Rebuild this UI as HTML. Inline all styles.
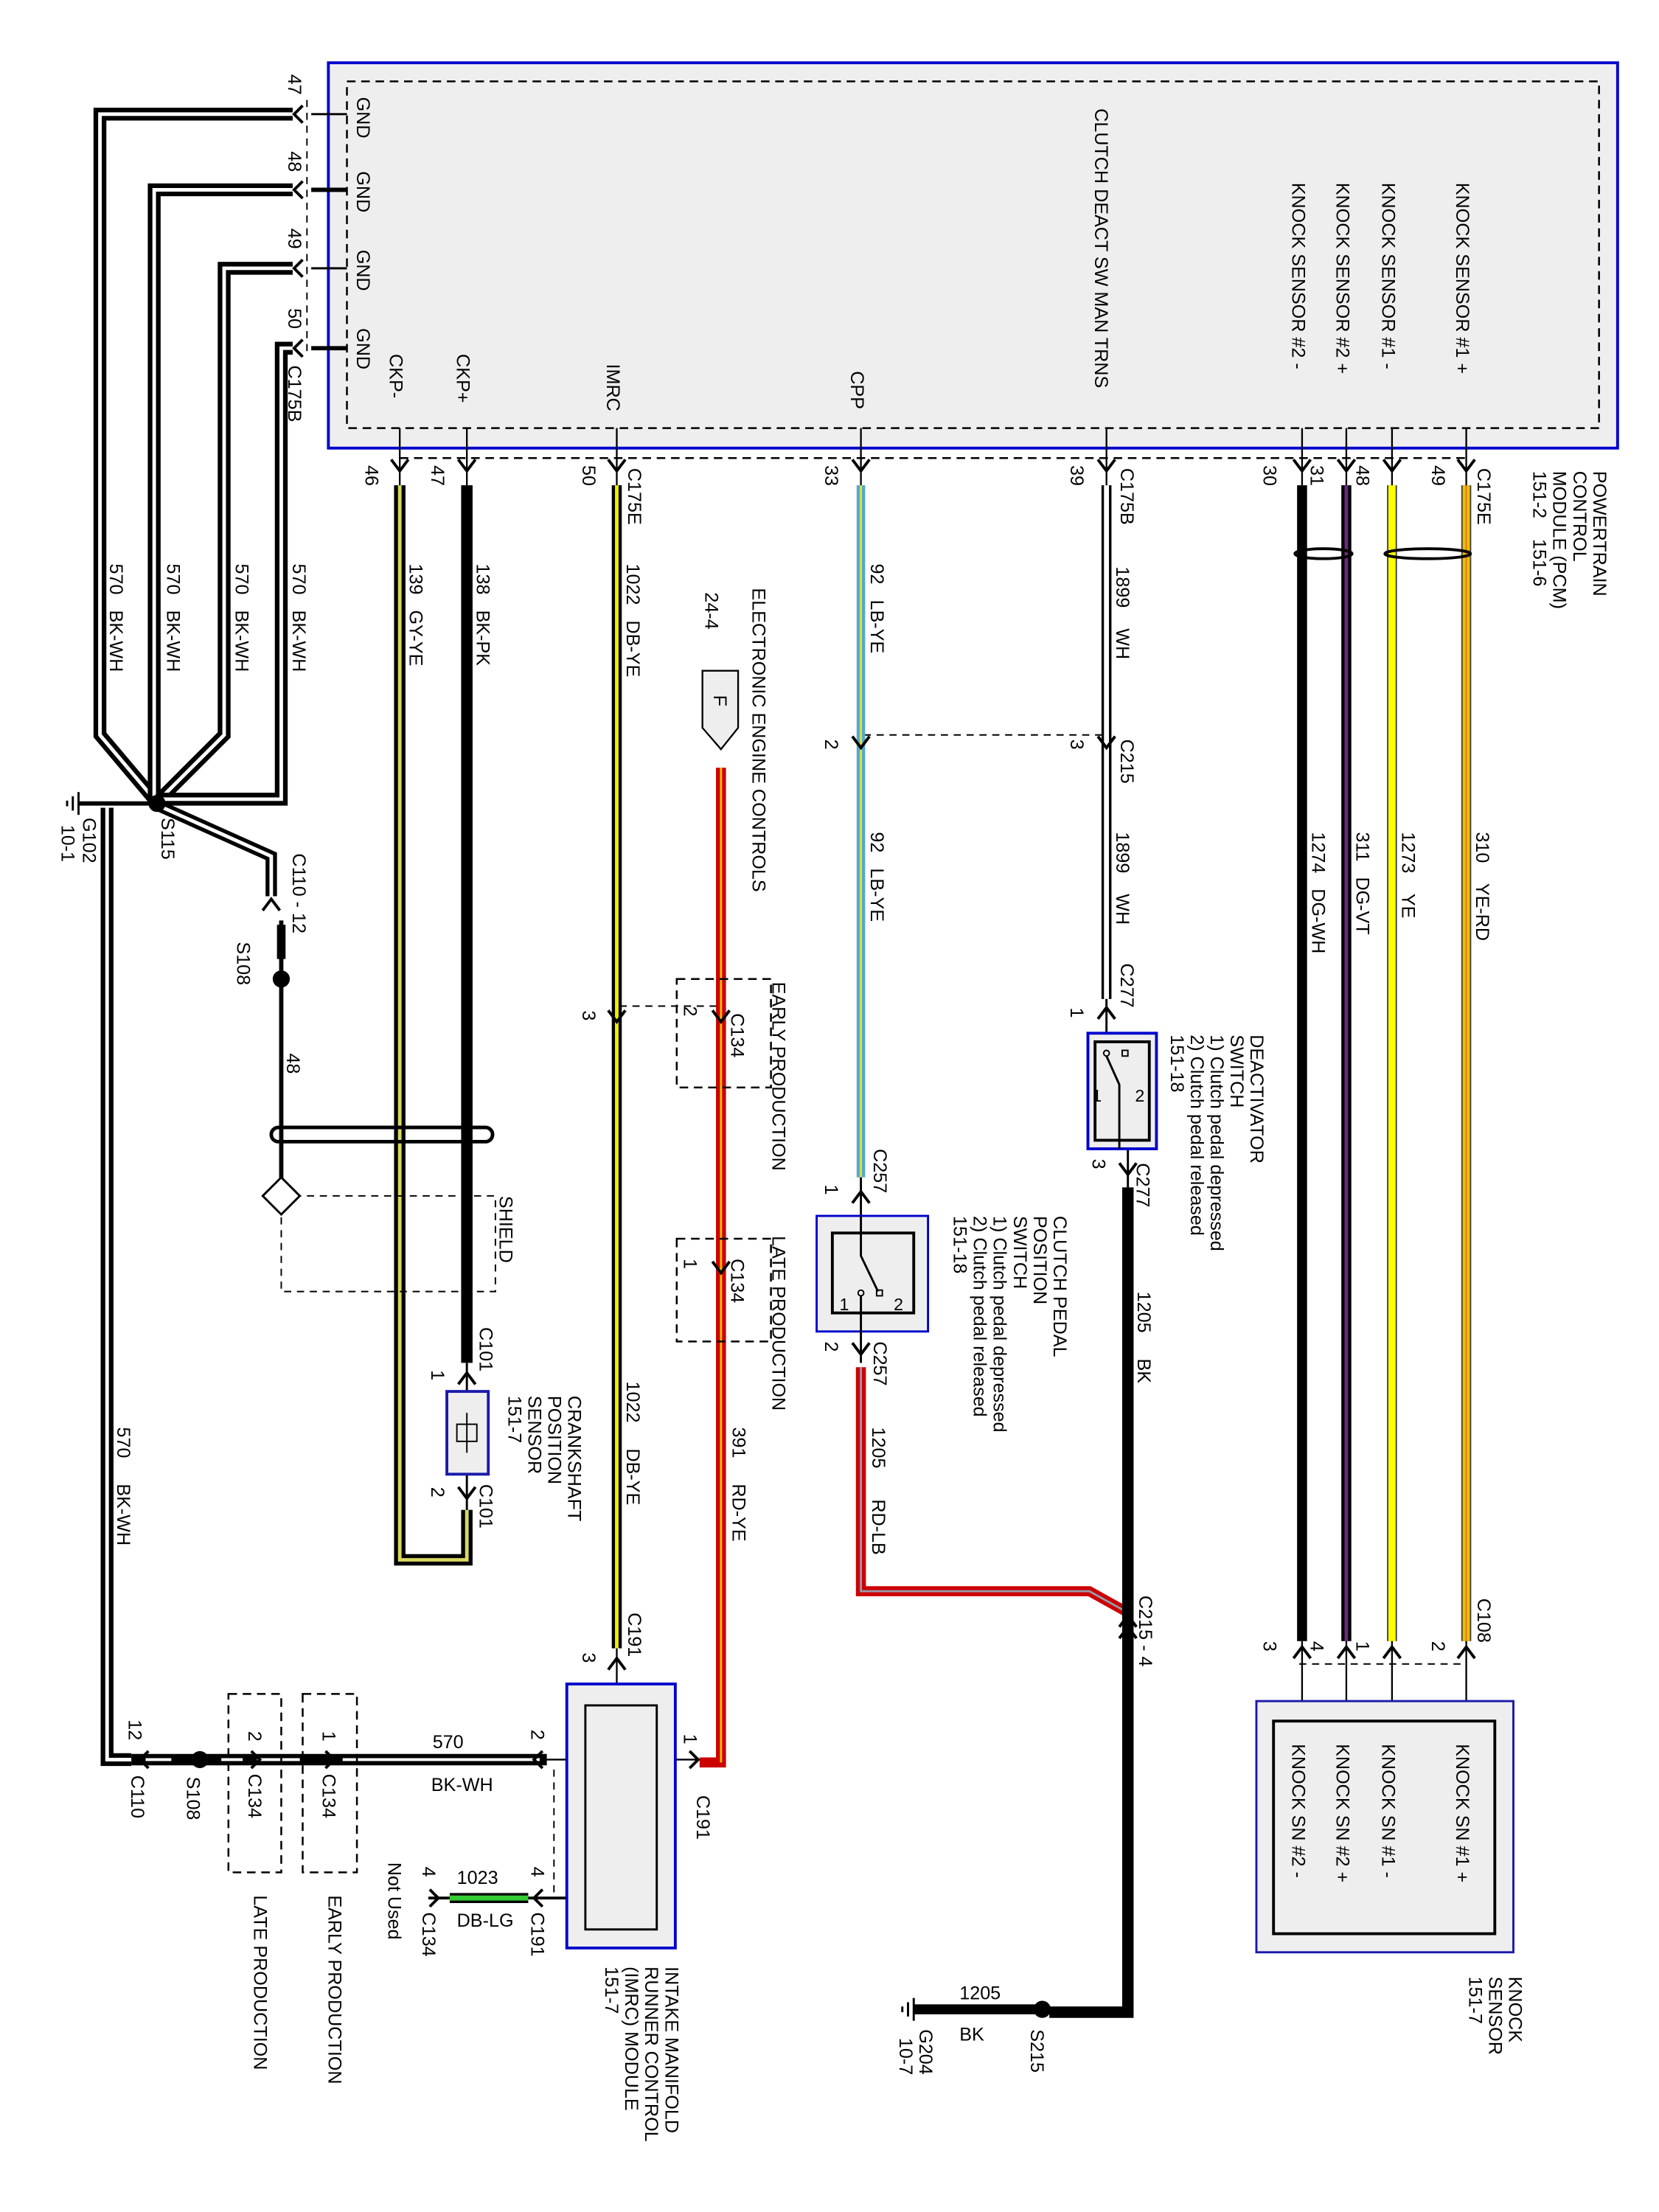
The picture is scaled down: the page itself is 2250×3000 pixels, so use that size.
<!DOCTYPE html>
<html><head><meta charset="utf-8"><style>
html,body{margin:0;padding:0;background:#fff;}
svg{display:block;}
text{font-family:"Liberation Sans Narrow","Liberation Sans",sans-serif;font-size:13px;fill:#000;white-space:pre;}
.s{font-size:12px;}
</style></head><body>
<svg width="2250" height="3000" viewBox="0 0 1162 1550" preserveAspectRatio="none" xmlns="http://www.w3.org/2000/svg">
<rect x="0" y="0" width="1162" height="1550" fill="#fff"/>
<!-- PCM -->
<rect x="230" y="44" width="903" height="270" fill="#eeeeee" stroke="#0000cc" stroke-width="2"/>
<rect x="243" y="57" width="877" height="243" fill="none" stroke="#000" stroke-width="1.3" stroke-dasharray="6,4"/>
<line x1="215" y1="70" x2="215" y2="250" stroke="#000" stroke-dasharray="5,4"/>
<line x1="280" y1="321" x2="1030" y2="321" stroke="#000" stroke-width="1.3" stroke-dasharray="6,4"/>
<line x1="605" y1="515" x2="775" y2="515" stroke="#000" stroke-dasharray="5,4"/>
<line x1="910" y1="1166" x2="1027" y2="1166" stroke="#000" stroke-dasharray="5,4"/>
<line x1="434" y1="705" x2="505" y2="705" stroke="#000" stroke-dasharray="5,4"/>

<g fill="none" stroke-linejoin="miter">
<path d="M205 80 H70 V515 L108 560" stroke="#000" stroke-width="9"/>
<path d="M205 80 H70 V515 L108 560" stroke="#fff" stroke-width="2.5"/>
<path d="M205 133 H108 V560" stroke="#000" stroke-width="9"/>
<path d="M205 133 H108 V560" stroke="#fff" stroke-width="2.5"/>
<path d="M205 188 H157 V515 L112 560" stroke="#000" stroke-width="9"/>
<path d="M205 188 H157 V515 L112 560" stroke="#fff" stroke-width="2.5"/>
<path d="M205 244 H197 V560 H112" stroke="#000" stroke-width="9"/>
<path d="M205 244 H197 V560 H112" stroke="#fff" stroke-width="2.5"/>
<path d="M112 565 L190 600 V628" stroke="#000" stroke-width="8"/>
<path d="M112 565 L190 600 V628" stroke="#fff" stroke-width="2.5"/>
<path d="M75 566 V1233 H92" stroke="#000" stroke-width="9"/>
<path d="M75 566 V1233 H92" stroke="#fff" stroke-width="2.5"/>
<line x1="55" y1="563" x2="112" y2="563" stroke="#000" stroke-width="3"/>
<line x1="218" y1="80" x2="243" y2="80" stroke="#000" stroke-width="1.5"/>
<line x1="218" y1="133" x2="243" y2="133" stroke="#000" stroke-width="3"/>
<line x1="218" y1="188" x2="243" y2="188" stroke="#000" stroke-width="1.5"/>
<line x1="218" y1="244" x2="243" y2="244" stroke="#000" stroke-width="3"/>
<line x1="197" y1="645" x2="197" y2="838" stroke="#000" stroke-width="3"/>
<line x1="197" y1="648" x2="197" y2="672" stroke="#000" stroke-width="6"/>
<path d="M280 340 V1093 H327 V1058" stroke="#000" stroke-width="8"/>
<path d="M280 340 V1093 H327 V1058" stroke="#d8d860" stroke-width="2.5"/>
<line x1="327" y1="340" x2="327" y2="955" stroke="#000" stroke-width="8"/>
<line x1="280" y1="300" x2="280" y2="340" stroke="#000" stroke-width="1.2"/>
<line x1="327" y1="300" x2="327" y2="340" stroke="#000" stroke-width="1.2"/>
<line x1="327" y1="955" x2="327" y2="975" stroke="#000" stroke-width="1.5"/>
<line x1="327" y1="1033" x2="327" y2="1058" stroke="#000" stroke-width="1.5"/>
<line x1="432" y1="340" x2="432" y2="1155" stroke="#000" stroke-width="7"/>
<line x1="432" y1="340" x2="432" y2="1155" stroke="#f0f000" stroke-width="2.5"/>
<line x1="432" y1="300" x2="432" y2="340" stroke="#000" stroke-width="1.2"/>
<line x1="432" y1="1155" x2="432" y2="1195" stroke="#000" stroke-width="1.2"/>
<path d="M505 538 V1235 H490" stroke="#cc0000" stroke-width="7"/>
<path d="M505 538 V1235" stroke="#f0c000" stroke-width="1.5"/>
<line x1="603" y1="340" x2="603" y2="825" stroke="#55aacc" stroke-width="6"/>
<line x1="603" y1="340" x2="603" y2="825" stroke="#e0e040" stroke-width="1.5"/>
<line x1="603" y1="300" x2="603" y2="340" stroke="#000" stroke-width="1.2"/>
<line x1="603" y1="825" x2="603" y2="955" stroke="#000" stroke-width="1.5"/>
<path d="M603 958 V1115 H763 L790 1130" stroke="#cc0000" stroke-width="7"/>
<path d="M603 958 V1115 H763 L790 1130" stroke="#9999aa" stroke-width="1.5"/>
<line x1="775" y1="340" x2="775" y2="700" stroke="#000" stroke-width="7"/>
<line x1="775" y1="340" x2="775" y2="700" stroke="#fff" stroke-width="3.5"/>
<line x1="775" y1="300" x2="775" y2="340" stroke="#000" stroke-width="1.2"/>
<line x1="775" y1="700" x2="775" y2="760" stroke="#000" stroke-width="1.5"/>
<path d="M790 832 V1410 H735" stroke="#000" stroke-width="8"/>
<path d="M640 1408 H735" stroke="#000" stroke-width="7"/>
<line x1="790" y1="775" x2="790" y2="832" stroke="#000" stroke-width="1.5"/>
<line x1="912" y1="340" x2="912" y2="1150" stroke="#000" stroke-width="7"/>
<line x1="943" y1="340" x2="943" y2="1150" stroke="#000" stroke-width="7"/>
<line x1="943" y1="340" x2="943" y2="1150" stroke="#6a2a7a" stroke-width="2.5"/>
<line x1="975" y1="340" x2="975" y2="1150" stroke="#444" stroke-width="7"/>
<line x1="975" y1="340" x2="975" y2="1150" stroke="#ffff00" stroke-width="5"/>
<line x1="1027" y1="340" x2="1027" y2="1150" stroke="#444" stroke-width="7"/>
<line x1="1027" y1="340" x2="1027" y2="1150" stroke="#f0c000" stroke-width="5"/>
<line x1="1027" y1="340" x2="1027" y2="1150" stroke="#e08020" stroke-width="1.2"/>
<g stroke="#000" stroke-width="1.2">
<line x1="912" y1="300" x2="912" y2="340"/><line x1="943" y1="300" x2="943" y2="340"/><line x1="975" y1="300" x2="975" y2="340"/><line x1="1027" y1="300" x2="1027" y2="340"/>
<line x1="912" y1="1150" x2="912" y2="1206"/><line x1="943" y1="1150" x2="943" y2="1206"/><line x1="975" y1="1150" x2="975" y2="1206"/><line x1="1027" y1="1150" x2="1027" y2="1206"/>
</g>
<ellipse cx="927" cy="388" rx="20" ry="3.5" stroke="#000" stroke-width="2"/>
<ellipse cx="1000" cy="388" rx="30" ry="3.5" stroke="#000" stroke-width="2"/>
<path d="M92 1233 H250 M250 1233 H383" stroke="#000" stroke-width="8"/>
<path d="M102 1233 H120 M155 1233 H170 M180 1233 H210 M240 1233 H378" stroke="#fff" stroke-width="2"/>
<line x1="383" y1="1233" x2="410" y2="1233" stroke="#000" stroke-width="1.2"/>
<line x1="460" y1="1233" x2="490" y2="1233" stroke="#000" stroke-width="1.2"/>
<line x1="388" y1="1240" x2="388" y2="1330" stroke="#000" stroke-dasharray="5,4"/>
<line x1="300" y1="1330" x2="397" y2="1330" stroke="#000" stroke-width="2"/>
<line x1="315" y1="1330" x2="370" y2="1330" stroke="#000" stroke-width="7"/>
<line x1="315" y1="1330" x2="370" y2="1330" stroke="#33cc33" stroke-width="3.5"/>
</g>

<circle cx="110" cy="563" r="6" fill="#000"/>
<circle cx="197" cy="686" r="6" fill="#000"/>
<circle cx="140" cy="1233" r="6" fill="#000"/>
<circle cx="730" cy="1408" r="6" fill="#000"/>
<g stroke="#000" stroke-width="1.5">
<line x1="55" y1="555" x2="55" y2="571"/><line x1="51" y1="558" x2="51" y2="568"/><line x1="47" y1="561" x2="47" y2="565"/>
<line x1="640" y1="1400" x2="640" y2="1416"/><line x1="636" y1="1403" x2="636" y2="1413"/><line x1="632" y1="1406" x2="632" y2="1410"/>
</g>

<rect x="190" y="790" width="155" height="10" rx="5" fill="none" stroke="#000" stroke-width="2.5"/>
<rect x="197" y="838" width="150" height="67" fill="none" stroke="#000" stroke-dasharray="5,4"/>
<path d="M197 825 L210 838 L197 851 L184 838 Z" fill="#fff" stroke="#000" stroke-width="1.5"/>

<g fill="none" stroke="#000" stroke-width="1.3" stroke-dasharray="6,4">
<rect x="474" y="686" width="66" height="76"/>
<rect x="474" y="868" width="66" height="72"/>
<rect x="160" y="1187" width="37" height="125"/>
<rect x="212" y="1187" width="38" height="125"/>
</g>
<path d="M492 470 H517 V510 L505 525 L492 510 Z" fill="#eee" stroke="#000" stroke-width="1.2"/>
<text transform="translate(500,487) rotate(90)">F</text>

<rect x="313" y="975" width="29" height="58" fill="#eee" stroke="#1a1aaa" stroke-width="2"/>
<rect x="320" y="998" width="14" height="12" fill="none" stroke="#000"/>
<line x1="327" y1="990" x2="327" y2="1018" stroke="#000"/>

<rect x="397" y="1180" width="76" height="185" fill="#eee" stroke="#0000cc" stroke-width="2"/>
<rect x="410" y="1195" width="50" height="157" fill="#eee" stroke="#000" stroke-width="1.5"/>

<rect x="572" y="852" width="78" height="81" fill="#eee" stroke="#0000cc" stroke-width="1.5"/>
<rect x="583" y="864" width="57" height="56" fill="#eee" stroke="#000" stroke-width="2"/>
<path d="M603 852 V880 L615 905" stroke="#000" stroke-width="1.5" fill="none"/>
<line x1="603" y1="908" x2="603" y2="935" stroke="#000" stroke-width="1.5"/>
<circle cx="603" cy="906" r="2" fill="none" stroke="#000"/><rect x="614" y="904" width="4" height="4" fill="none" stroke="#000"/>
<text x="588" y="918" class="s">1</text><text x="626" y="918" class="s">2</text>

<rect x="762" y="724" width="48" height="81" fill="#eee" stroke="#0000cc" stroke-width="2"/>
<rect x="767" y="730" width="38" height="69" fill="#eee" stroke="#000" stroke-width="2"/>
<path d="M775 740 L784 760 V805" stroke="#000" stroke-width="1.5" fill="none"/>
<circle cx="775" cy="738" r="2" fill="none" stroke="#000"/><rect x="786" y="736" width="4" height="4" fill="none" stroke="#000"/>
<text x="765" y="772" class="s">1</text><text x="795" y="772" class="s">2</text>

<rect x="880" y="1192" width="180" height="176" fill="#eee" stroke="#1a1aaa" stroke-width="1.5"/>
<rect x="892" y="1206" width="155" height="149" fill="#eee" stroke="#000" stroke-width="2"/>

<g fill="none" stroke="#000" stroke-width="2">
<path d="M212 74 L206 80 L212 86"/><path d="M212 127 L206 133 L212 139"/><path d="M212 182 L206 188 L212 194"/><path d="M212 238 L206 244 L212 250"/>
<path d="M274 322 L280 330 L286 322"/><path d="M321 322 L327 330 L333 322"/><path d="M426 322 L432 330 L438 322"/><path d="M597 322 L603 330 L609 322"/><path d="M769 322 L775 330 L781 322"/>
<path d="M906 322 L912 330 L918 322"/><path d="M937 322 L943 330 L949 322"/><path d="M969 322 L975 330 L981 322"/><path d="M1021 322 L1027 330 L1033 322"/>
<path d="M597 516 L603 524 L609 516"/><path d="M769 516 L775 524 L781 516"/>
<path d="M769 714 L775 706 L781 714"/><path d="M784 815 L790 823 L796 815"/>
<path d="M597 843 L603 835 L609 843"/><path d="M597 941 L603 949 L609 941"/>
<path d="M426 708 L432 716 L438 708"/><path d="M499 708 L505 716 L511 708"/><path d="M499 884 L505 892 L511 884"/>
<path d="M321 970 L327 962 L333 970"/><path d="M321 1042 L327 1050 L333 1042"/>
<path d="M426 1170 L432 1162 L438 1170"/><path d="M784 1140 L790 1132 L796 1140"/><path d="M784 1148 L790 1140 L796 1148"/>
<path d="M906 1162 L912 1154 L918 1162"/><path d="M937 1162 L943 1154 L949 1162"/><path d="M969 1162 L975 1154 L981 1162"/><path d="M1021 1162 L1027 1154 L1033 1162"/>
<path d="M184 638 L190 630 L196 638"/>
<path d="M380 1227 L374 1233 L380 1239"/><path d="M483 1227 L489 1233 L483 1239"/>
<path d="M104 1227 L98 1233 L104 1239"/><path d="M176 1227 L182 1233 L176 1239"/><path d="M228 1227 L234 1233 L228 1239"/>
<path d="M380 1324 L374 1330 L380 1336"/><path d="M301 1324 L307 1330 L301 1336"/>
</g>

<g>
<text transform="translate(250,68) rotate(90)">GND</text>
<text transform="translate(250,120) rotate(90)">GND</text>
<text transform="translate(250,175) rotate(90)">GND</text>
<text transform="translate(250,230) rotate(90)">GND</text>
<text transform="translate(273,248) rotate(90)">CKP-</text>
<text transform="translate(320,248) rotate(90)">CKP+</text>
<text transform="translate(425,255) rotate(90)">IMRC</text>
<text transform="translate(596,260) rotate(90)">CPP</text>
<text transform="translate(767,76) rotate(90)">CLUTCH DEACT SW MAN TRNS</text>
<text transform="translate(905,128) rotate(90)">KNOCK SENSOR #2 -</text>
<text transform="translate(936,128) rotate(90)">KNOCK SENSOR #2 +</text>
<text transform="translate(968,128) rotate(90)">KNOCK SENSOR #1 -</text>
<text transform="translate(1020,128) rotate(90)">KNOCK SENSOR #1 +</text>

<text transform="translate(202,52) rotate(90)">47</text>
<text transform="translate(202,106) rotate(90)">48</text>
<text transform="translate(202,160) rotate(90)">49</text>
<text transform="translate(202,216) rotate(90)">50</text>
<text transform="translate(202,256) rotate(90)">C175B</text>
<text transform="translate(256,326) rotate(90)">46</text>
<text transform="translate(302,326) rotate(90)">47</text>
<text transform="translate(408,326) rotate(90)">50</text>
<text transform="translate(440,328) rotate(90)">C175E</text>
<text transform="translate(578,326) rotate(90)">33</text>
<text transform="translate(750,326) rotate(90)">39</text>
<text transform="translate(785,328) rotate(90)">C175B</text>
<text transform="translate(885,326) rotate(90)">30</text>
<text transform="translate(918,326) rotate(90)">31</text>
<text transform="translate(950,326) rotate(90)">48</text>
<text transform="translate(1003,326) rotate(90)">49</text>
<text transform="translate(1035,328) rotate(90)">C175E</text>
<text transform="translate(1116,330) rotate(90)">POWERTRAIN</text>
<text transform="translate(1102,330) rotate(90)">CONTROL</text>
<text transform="translate(1088,330) rotate(90)">MODULE (PCM)</text>
<text transform="translate(1074,330) rotate(90)">151-2    151-6</text>

<text transform="translate(77,395) rotate(90)">570   BK-WH</text>
<text transform="translate(117,395) rotate(90)">570   BK-WH</text>
<text transform="translate(165,395) rotate(90)">570   BK-WH</text>
<text transform="translate(205,395) rotate(90)">570   BK-WH</text>
<text transform="translate(287,395) rotate(90)">139   GY-YE</text>
<text transform="translate(334,395) rotate(90)">138   BK-PK</text>
<text transform="translate(439,395) rotate(90)">1022   DB-YE</text>
<text transform="translate(610,395) rotate(90)">92   LB-YE</text>
<text transform="translate(782,397) rotate(90)">1899    WH</text>
<text transform="translate(527,412) rotate(90)">ELECTRONIC ENGINE CONTROLS</text>
<text transform="translate(494,415) rotate(90)">24-4</text>
<text transform="translate(578,518) rotate(90)">2</text>
<text transform="translate(750,518) rotate(90)">3</text>
<text transform="translate(785,518) rotate(90)">C215</text>
<text transform="translate(610,583) rotate(90)">92   LB-YE</text>
<text transform="translate(782,583) rotate(90)">1899    WH</text>
<text transform="translate(919,583) rotate(90)">1274   DG-WH</text>
<text transform="translate(950,583) rotate(90)">311   DG-VT</text>
<text transform="translate(982,583) rotate(90)">1273    YE</text>
<text transform="translate(1034,583) rotate(90)">310    YE-RD</text>
<text transform="translate(785,675) rotate(90)">C277</text>
<text transform="translate(750,706) rotate(90)">1</text>
<text transform="translate(876,725) rotate(90)">DEACTIVATOR</text>
<text transform="translate(862,725) rotate(90)">SWITCH</text>
<text transform="translate(848,725) rotate(90)">1) Clutch pedal depressed</text>
<text transform="translate(834,725) rotate(90)">2) Clutch pedal released</text>
<text transform="translate(820,725) rotate(90)">151-18</text>
<text transform="translate(765,812) rotate(90)">3</text>
<text transform="translate(796,815) rotate(90)">C277</text>
<text transform="translate(797,905) rotate(90)">1205     BK</text>

<text transform="translate(541,688) rotate(90)">EARLY PRODUCTION</text>
<text transform="translate(541,866) rotate(90)">LATE PRODUCTION</text>
<text transform="translate(512,710) rotate(90)">C134</text>
<text transform="translate(512,882) rotate(90)">C134</text>
<text transform="translate(479,705) rotate(90)">2</text>
<text transform="translate(479,882) rotate(90)">1</text>
<text transform="translate(408,708) rotate(90)">3</text>
<text transform="translate(350,838) rotate(90)">SHIELD</text>
<text transform="translate(201,738) rotate(90)">48</text>
<text transform="translate(166,660) rotate(90)">S108</text>
<text transform="translate(205,598) rotate(90)">C110 - 12</text>
<text transform="translate(113,573) rotate(90)">S115</text>
<text transform="translate(58,573) rotate(90)">G102</text>
<text transform="translate(43,578) rotate(90)">10-1</text>

<text transform="translate(612,805) rotate(90)">C257</text>
<text transform="translate(578,830) rotate(90)">1</text>
<text transform="translate(578,940) rotate(90)">2</text>
<text transform="translate(612,940) rotate(90)">C257</text>
<text transform="translate(738,852) rotate(90)">CLUTCH PEDAL</text>
<text transform="translate(724,852) rotate(90)">POSITION</text>
<text transform="translate(710,852) rotate(90)">SWITCH</text>
<text transform="translate(696,852) rotate(90)">1) Clutch pedal depressed</text>
<text transform="translate(682,852) rotate(90)">2) Clutch pedal released</text>
<text transform="translate(668,852) rotate(90)">151-18</text>
<text transform="translate(611,1000) rotate(90)">1205      RD-LB</text>
<text transform="translate(513,1000) rotate(90)">391     RD-YE</text>
<text transform="translate(439,968) rotate(90)">1022     DB-YE</text>
<text transform="translate(336,930) rotate(90)">C101</text>
<text transform="translate(302,960) rotate(90)">1</text>
<text transform="translate(302,1042) rotate(90)">2</text>
<text transform="translate(336,1040) rotate(90)">C101</text>
<text transform="translate(398,978) rotate(90)">CRANKSHAFT</text>
<text transform="translate(384,978) rotate(90)">POSITION</text>
<text transform="translate(370,978) rotate(90)">SENSOR</text>
<text transform="translate(356,978) rotate(90)">151-7</text>
<text transform="translate(82,1000) rotate(90)">570     BK-WH</text>
<text transform="translate(440,1130) rotate(90)">C191</text>
<text transform="translate(408,1158) rotate(90)">3</text>
<text transform="translate(798,1118) rotate(90)">C215 - 4</text>
<text transform="translate(1035,1120) rotate(90)">C108</text>
<text transform="translate(885,1150) rotate(90)">3</text>
<text transform="translate(918,1150) rotate(90)">4</text>
<text transform="translate(950,1150) rotate(90)">1</text>
<text transform="translate(1003,1150) rotate(90)">2</text>
<text transform="translate(905,1222) rotate(90)">KNOCK SN #2 -</text>
<text transform="translate(936,1222) rotate(90)">KNOCK SN #2 +</text>
<text transform="translate(968,1222) rotate(90)">KNOCK SN #1 -</text>
<text transform="translate(1020,1222) rotate(90)">KNOCK SN #1 +</text>
<text transform="translate(1057,1385) rotate(90)">KNOCK</text>
<text transform="translate(1043,1385) rotate(90)">SENSOR</text>
<text transform="translate(1029,1385) rotate(90)">151-7</text>

<text transform="translate(488,1258) rotate(90)">C191</text>
<text transform="translate(479,1215) rotate(90)">1</text>
<text transform="translate(372,1212) rotate(90)">2</text>
<text transform="translate(372,1308) rotate(90)">4</text>
<text transform="translate(372,1340) rotate(90)">C191</text>
<text transform="translate(296,1308) rotate(90)">4</text>
<text transform="translate(296,1340) rotate(90)">C134</text>
<text transform="translate(272,1305) rotate(90)">Not Used</text>
<text x="320" y="1320">1023</text>
<text x="320" y="1350">DB-LG</text>
<text x="303" y="1225">570</text>
<text x="302" y="1255">BK-WH</text>
<text transform="translate(466,1378) rotate(90)">INTAKE MANIFOLD</text>
<text transform="translate(452,1378) rotate(90)">RUNNER CONTROL</text>
<text transform="translate(438,1378) rotate(90)">(IMRC) MODULE</text>
<text transform="translate(424,1378) rotate(90)">151-7</text>
<text transform="translate(226,1213) rotate(90)">1</text>
<text transform="translate(226,1243) rotate(90)">C134</text>
<text transform="translate(174,1213) rotate(90)">2</text>
<text transform="translate(174,1243) rotate(90)">C134</text>
<text transform="translate(131,1245) rotate(90)">S108</text>
<text transform="translate(90,1205) rotate(90)">12</text>
<text transform="translate(92,1244) rotate(90)">C110</text>
<text transform="translate(230,1328) rotate(90)">EARLY PRODUCTION</text>
<text transform="translate(178,1328) rotate(90)">LATE PRODUCTION</text>
<text x="672" y="1401">1205</text>
<text x="672" y="1430">BK</text>
<text transform="translate(722,1422) rotate(90)">S215</text>
<text transform="translate(644,1422) rotate(90)">G204</text>
<text transform="translate(630,1428) rotate(90)">10-7</text>
</g>
</svg>
</body></html>
